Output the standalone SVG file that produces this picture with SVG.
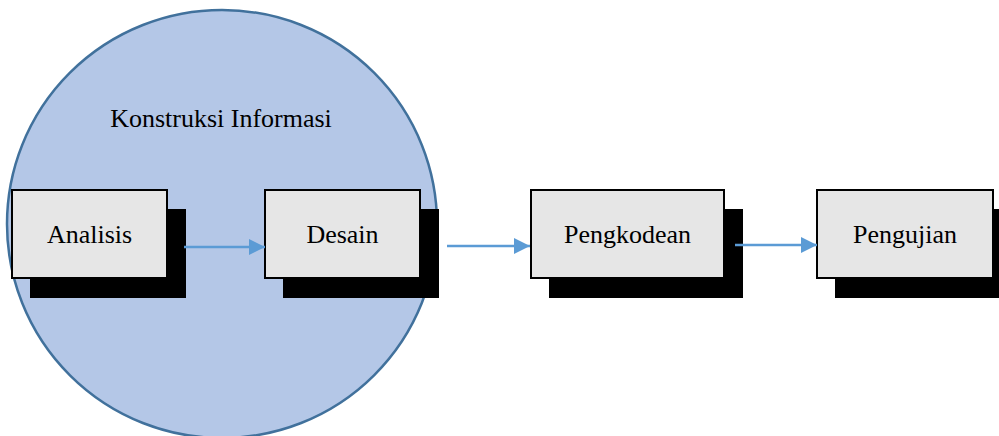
<svg xmlns="http://www.w3.org/2000/svg" width="999" height="436" viewBox="0 0 999 436">
<defs>
<style>
.shadow{fill:#000}
.box{fill:#e6e6e6;stroke:#000;stroke-width:2}
.lbl{font-family:"Liberation Serif","Times New Roman",serif;font-size:26px;fill:#000;text-anchor:middle}
.conn{stroke:#5b9bd5;stroke-width:2.5;fill:none}
</style>
<marker id="ah" markerUnits="userSpaceOnUse" markerWidth="16" markerHeight="16" viewBox="0 0 16 16" refX="16" refY="8" orient="auto">
<path d="M0,0 L16,8 L0,16 Z" fill="#5b9bd5"/>
</marker>
</defs>
<rect width="999" height="436" fill="#fff"/>
<g id="konstruksi">
<ellipse cx="222" cy="224" rx="215" ry="214" fill="#b4c7e7" stroke="#41719c" stroke-width="2.5"/>
<text class="lbl" x="221" y="127">Konstruksi Informasi</text>
</g>
<g id="analisis">
<rect class="shadow" x="30" y="209" width="156" height="89"/>
<rect class="box" x="12" y="190" width="155" height="88"/>
<text class="lbl" x="89.5" y="243">Analisis</text>
</g>
<g id="desain">
<rect class="shadow" x="283" y="209" width="156" height="89"/>
<rect class="box" x="265" y="190" width="155" height="88"/>
<text class="lbl" x="342.5" y="243">Desain</text>
</g>
<g id="pengkodean">
<rect class="shadow" x="549" y="209" width="194" height="89"/>
<rect class="box" x="531" y="190" width="193" height="88"/>
<text class="lbl" x="627.5" y="243">Pengkodean</text>
</g>
<g id="pengujian">
<rect class="shadow" x="835" y="209" width="170" height="89"/>
<rect class="box" x="817" y="190" width="176" height="88"/>
<text class="lbl" x="905" y="243">Pengujian</text>
</g>
<g id="connectors">
<line class="conn" x1="184" y1="247" x2="265" y2="247" marker-end="url(#ah)"/>
<line class="conn" x1="447" y1="246" x2="530" y2="246" marker-end="url(#ah)"/>
<line class="conn" x1="735" y1="245" x2="817" y2="245" marker-end="url(#ah)"/>
</g>
</svg>
